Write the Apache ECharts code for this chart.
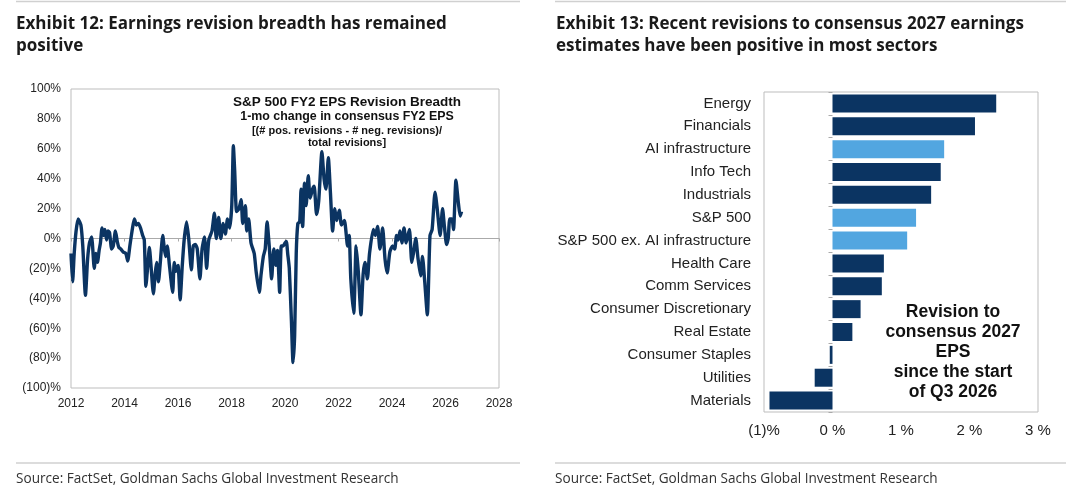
<!DOCTYPE html>
<html>
<head>
<meta charset="utf-8">
<script src="https://cdn.jsdelivr.net/npm/echarts@6/dist/echarts.min.js"></script>
<style>
  html, body { margin: 0; padding: 0; background: #fff; }
  #chart { width: 1080px; height: 500px; }
</style>
</head>
<body>
<div id="chart"></div>
<script>
// Exhibit 12: S&P 500 FY2 EPS revision breadth (decimal year, %)
var breadthYears = [
  2012.00, 2012.06, 2012.12, 2012.19, 2012.27, 2012.37, 2012.44, 2012.54, 2012.62, 2012.69,
  2012.77, 2012.87, 2012.93, 2012.99, 2013.05, 2013.10, 2013.16, 2013.22, 2013.27, 2013.33,
  2013.38, 2013.44, 2013.52, 2013.58, 2013.66, 2013.73, 2013.79, 2013.86, 2013.95, 2014.05,
  2014.12, 2014.20, 2014.30, 2014.37, 2014.45, 2014.52, 2014.60, 2014.68, 2014.74, 2014.80,
  2014.87, 2014.93, 2014.99, 2015.08, 2015.15, 2015.20, 2015.27, 2015.33, 2015.43, 2015.49,
  2015.54, 2015.60, 2015.68, 2015.80, 2015.86, 2015.92, 2016.00, 2016.08, 2016.16, 2016.23,
  2016.32, 2016.40, 2016.50, 2016.57, 2016.65, 2016.72, 2016.82, 2016.90, 2016.99, 2017.07,
  2017.15, 2017.27, 2017.36, 2017.43, 2017.52, 2017.60, 2017.69, 2017.77, 2017.85, 2017.93,
  2018.01, 2018.07, 2018.12, 2018.19, 2018.28, 2018.36, 2018.42, 2018.52, 2018.57, 2018.64,
  2018.73, 2018.85, 2018.92, 2019.04, 2019.10, 2019.19, 2019.26, 2019.33, 2019.41, 2019.50,
  2019.58, 2019.66, 2019.72, 2019.80, 2019.86, 2019.93, 2020.00, 2020.05, 2020.10, 2020.16,
  2020.24, 2020.30, 2020.36, 2020.42, 2020.48, 2020.55, 2020.60, 2020.66, 2020.73, 2020.79,
  2020.87, 2020.94, 2021.03, 2021.09, 2021.18, 2021.26, 2021.38, 2021.46, 2021.53, 2021.62,
  2021.70, 2021.78, 2021.86, 2021.93, 2022.03, 2022.11, 2022.22, 2022.34, 2022.40, 2022.46,
  2022.57, 2022.66, 2022.74, 2022.84, 2022.92, 2022.99, 2023.08, 2023.16, 2023.30, 2023.38,
  2023.46, 2023.55, 2023.65, 2023.74, 2023.82, 2023.92, 2024.02, 2024.10, 2024.17, 2024.23,
  2024.30, 2024.37, 2024.45, 2024.53, 2024.65, 2024.74, 2024.81, 2024.89, 2024.97, 2025.07,
  2025.14, 2025.22, 2025.32, 2025.42, 2025.50, 2025.61, 2025.69, 2025.80, 2025.89, 2025.96,
  2026.04, 2026.10, 2026.16, 2026.24, 2026.30, 2026.39, 2026.48, 2026.55, 2026.60
];
var breadth = [
  -10, -29, -10, 5, 13, 9, -5, -38, -14, -3,
  1, -20, -10, -16, -8, -3, 7, 2, 6, -1,
  5, 4, -7, -5, 5, -2, -6, -7, -9, -10,
  -15, -5, 7, 13, 9, 10, 7, 2, -1, -32,
  -18, -6, -18, -37, -23, -16, -29, -18, 2, -7,
  -12, -5, -18, -36, -16, -22, -18, -41, -18, -1,
  11, 0, -21, -5, -4, -7, -27, -7, 1, -20,
  -1, 5, 17, 0, 14, 0, 10, 3, 13, 7,
  22, 62, 45, 18, 20, 26, 10, 22, 5, 13,
  -3, -10, -22, -36, -25, -12, -7, 11, -5, -27,
  -7, -18, -8, -36, -5, -5, -3, -2, -10, -20,
  -55, -83, -65, -10, 10, 11, 33, 8, 37, 22,
  42, 27, 33, 35, 16, 25, 58, 40, 33, 54,
  30, 5, 20, 12, 19, 9, 12, -5, 2, -27,
  -50, -5, -22, -51, -24, -16, -27, -10, 6, 2,
  8, -7, 7, -14, -23, -9, -5, -7, 2, -1,
  5, -3, 7, -3, 6, -16, -9, 0, -13, -25,
  -12, -28, -51, 2, 6, 31, 20, 2, 20, 8,
  -4, 0, 13, 13, 6, 39, 24, 15, 18
];

// Exhibit 13: revision to consensus 2027 EPS since start of Q3 2026 (%)
var sectors = [
  'Energy', 'Financials', 'AI infrastructure', 'Info Tech', 'Industrials', 'S&P 500',
  'S&P 500 ex. AI infrastructure', 'Health Care', 'Comm Services', 'Consumer Discretionary',
  'Real Estate', 'Consumer Staples', 'Utilities', 'Materials'
];
var revisions = [2.39, 2.08, 1.63, 1.58, 1.44, 1.22, 1.09, 0.75, 0.72, 0.41, 0.29, -0.04, -0.26, -0.92];
var highlighted = ['AI infrastructure', 'S&P 500', 'S&P 500 ex. AI infrastructure'];

var DARK = '#0b3462';
var LIGHT = '#52a6e0';
var AXIS_FONT = 'Liberation Sans, Arial, sans-serif';
var HEAD_FONT = 'Open Sans, Lato, sans-serif';

var myChart = echarts.init(document.getElementById('chart'));

function pctLabel(v) {
  return v < 0 ? '(' + (-v) + ')%' : v + '%';
}

var breadthData = breadthYears.map(function (y, i) { return [y, breadth[i]]; });

var barData = revisions.map(function (v, i) {
  return {
    value: v,
    itemStyle: { color: highlighted.indexOf(sectors[i]) >= 0 ? LIGHT : DARK }
  };
});

var option = {
  animation: false,
  textStyle: { fontFamily: AXIS_FONT },
  grid: [
    { left: 71, top: 89, width: 428, height: 299, show: true, borderColor: '#bdbdbd', borderWidth: 1 },
    { left: 764, top: 92, width: 274, height: 320, show: true, borderColor: '#bdbdbd', borderWidth: 1 }
  ],
  xAxis: [
    {
      gridIndex: 0, type: 'value', min: 2012, max: 2028, interval: 2,
      axisLine: { show: false, onZero: false }, axisTick: { show: false },
      splitLine: { show: false },
      axisLabel: { color: '#222', fontSize: 12, margin: 10, formatter: function (v) { return String(v); } }
    },
    {
      gridIndex: 0, type: 'value', min: 2012, max: 2028, interval: 2, position: 'bottom',
      axisLine: { show: true, onZero: true, lineStyle: { color: '#aaaaaa', width: 1.2 } },
      axisTick: { show: true, length: 3, lineStyle: { color: '#aaaaaa' } },
      axisLabel: { show: false }, splitLine: { show: false }
    },
    {
      gridIndex: 1, type: 'value', min: -1, max: 3, interval: 1,
      axisLine: { show: false, onZero: false }, axisTick: { show: false },
      splitLine: { show: false },
      axisLabel: {
        color: '#222', fontSize: 15, margin: 11,
        formatter: function (v) { return v < 0 ? '(' + (-v) + ')%' : v + ' %'; }
      }
    }
  ],
  yAxis: [
    {
      gridIndex: 0, type: 'value', min: -100, max: 100, interval: 20,
      axisLine: { show: false }, axisTick: { show: false }, splitLine: { show: false },
      axisLabel: { color: '#222', fontSize: 12, margin: 10, formatter: pctLabel }
    },
    {
      gridIndex: 1, type: 'category', data: sectors, inverse: true,
      axisLine: { show: false, onZero: false }, axisTick: { show: false },
      axisLabel: { color: '#222', fontSize: 15, margin: 13 }
    },
    {
      gridIndex: 1, type: 'category', data: sectors, inverse: true, position: 'left',
      axisLine: { show: false, onZero: true },
      axisTick: { show: true, length: 4, lineStyle: { color: '#aaaaaa' } },
      axisLabel: { show: false }
    }
  ],
  series: [
    {
      type: 'line', xAxisIndex: 0, yAxisIndex: 0,
      data: breadthData, showSymbol: false, smooth: 0.2,
      lineStyle: { color: DARK, width: 3.4 }
    },
    {
      type: 'bar', xAxisIndex: 2, yAxisIndex: 1,
      data: barData, barWidth: 18
    }
  ],
  graphic: [
    // panel rules
    { type: 'line', shape: { x1: 16, y1: 1.5, x2: 520, y2: 1.5 }, style: { stroke: '#d0d0d0', lineWidth: 1.5 } },
    { type: 'line', shape: { x1: 555, y1: 1.5, x2: 1066, y2: 1.5 }, style: { stroke: '#d0d0d0', lineWidth: 1.5 } },
    { type: 'line', shape: { x1: 16, y1: 463, x2: 520, y2: 463 }, style: { stroke: '#d0d0d0', lineWidth: 1.5 } },
    { type: 'line', shape: { x1: 555, y1: 463, x2: 1066, y2: 463 }, style: { stroke: '#d0d0d0', lineWidth: 1.5 } },
    // headers
    {
      type: 'text', left: 16, top: 13,
      style: {
        text: 'Exhibit 12: Earnings revision breadth has remained\npositive',
        font: 'bold 17px ' + HEAD_FONT, fill: '#1a1a1a', lineHeight: 22
      }
    },
    {
      type: 'text', left: 556, top: 13,
      style: {
        text: 'Exhibit 13: Recent revisions to consensus 2027 earnings\nestimates have been positive in most sectors',
        font: 'bold 17px ' + HEAD_FONT, fill: '#1a1a1a', lineHeight: 22
      }
    },
    // sources
    {
      type: 'text', left: 16, top: 472,
      style: { text: 'Source: FactSet, Goldman Sachs Global Investment Research', font: '13.6px ' + HEAD_FONT, fill: '#333' }
    },
    {
      type: 'text', left: 555, top: 472,
      style: { text: 'Source: FactSet, Goldman Sachs Global Investment Research', font: '13.6px ' + HEAD_FONT, fill: '#333' }
    },
    // left chart inner title
    {
      type: 'text', x: 347, y: 102,
      style: { text: 'S&P 500 FY2 EPS Revision Breadth', font: 'bold 13.5px ' + AXIS_FONT, fill: '#111', align: 'center', verticalAlign: 'middle' }
    },
    {
      type: 'text', x: 347, y: 117,
      style: { text: '1-mo change in consensus FY2 EPS', font: 'bold 12.4px ' + AXIS_FONT, fill: '#111', align: 'center', verticalAlign: 'middle' }
    },
    {
      type: 'text', x: 347, y: 124.5,
      style: {
        text: '[(# pos. revisions - # neg. revisions)/\ntotal revisions]',
        font: 'bold 11px ' + AXIS_FONT, fill: '#111', align: 'center', verticalAlign: 'top', lineHeight: 12.5
      }
    },
    // right chart annotation
    {
      type: 'text', x: 953, y: 302,
      style: {
        text: 'Revision to\nconsensus 2027\nEPS\nsince the start\nof Q3 2026',
        font: 'bold 17.5px ' + AXIS_FONT, fill: '#111', align: 'center', verticalAlign: 'top', lineHeight: 20
      }
    }
  ]
};

myChart.setOption(option);
window.addEventListener('resize', myChart.resize);
</script>
</body>
</html>
